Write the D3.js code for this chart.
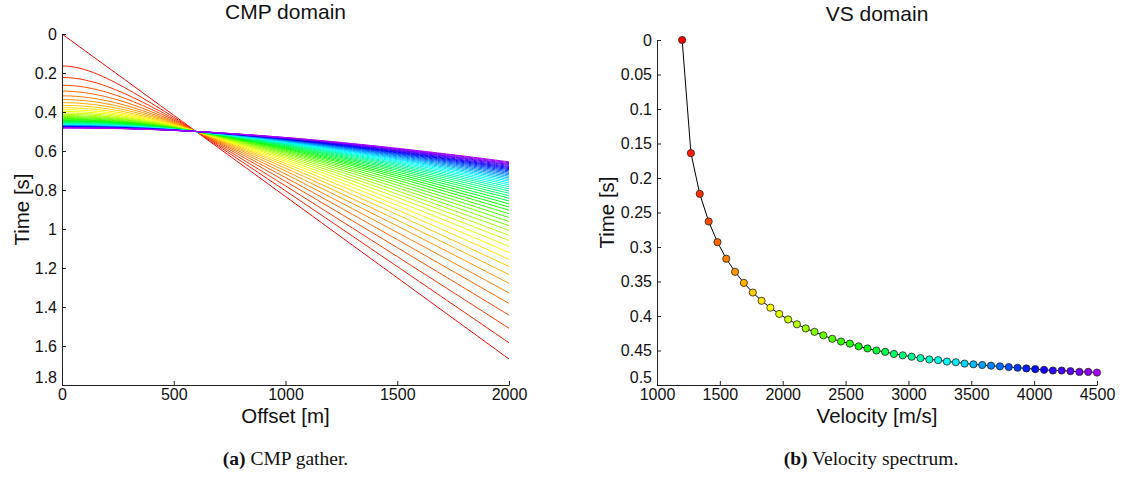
<!DOCTYPE html>
<html>
<head>
<meta charset="utf-8">
<script src="https://cdn.jsdelivr.net/npm/d3@7"></script>
<style>
  body { margin: 0; background: #fff; }
  svg text { font-family: "Liberation Sans", Arial, sans-serif; fill: #111; }
  .axis path, .axis line { stroke: #222; }
  .axis text { font-size: 16px; }
  .caption { font-family: "Liberation Serif", "Times New Roman", serif !important; font-size: 19.5px; }
</style>
</head>
<body>
<div class="chart"></div>
<script>
// stacking velocities (m/s) and zero-offset times (s)
var velocities = [1200, 1270, 1340, 1411, 1481, 1551, 1621, 1691, 1762, 1832, 1902, 1972,
    2043, 2113, 2183, 2253, 2323, 2394, 2464, 2534, 2604, 2674, 2745, 2815,
    2885, 2955, 3026, 3096, 3166, 3236, 3306, 3377, 3447, 3517, 3587, 3657,
    3728, 3798, 3868, 3938, 4009, 4079, 4149, 4219, 4289, 4360, 4430, 4500];
var zeroTimes = [0.000, 0.164, 0.223, 0.263, 0.293, 0.317, 0.336, 0.352, 0.366, 0.378, 0.388, 0.397,
    0.405, 0.412, 0.418, 0.423, 0.428, 0.433, 0.437, 0.440, 0.444, 0.447, 0.450, 0.452,
    0.455, 0.457, 0.459, 0.461, 0.463, 0.464, 0.466, 0.467, 0.469, 0.470, 0.471, 0.472,
    0.473, 0.474, 0.475, 0.476, 0.477, 0.478, 0.479, 0.479, 0.480, 0.481, 0.481, 0.482];

// offset grid for the CMP curves
var offsets = d3.range(0, 2001, 20);

// tick labels
var cmpTimeTicks = [0, 0.2, 0.4, 0.6, 0.8, 1, 1.2, 1.4, 1.6, 1.8];
var offsetTicks = [0, 500, 1000, 1500, 2000];
var vsTimeTicks = [0, 0.05, 0.1, 0.15, 0.2, 0.25, 0.3, 0.35, 0.4, 0.45, 0.5];
var velocityTicks = [1000, 1500, 2000, 2500, 3000, 3500, 4000, 4500];

var svg = d3.select(".chart").append("svg")
    .attr("width", 1121)
    .attr("height", 478);

// rainbow colour per velocity index (red -> violet)
var hue = d3.scaleLinear().domain([0, velocities.length - 1]).range([0, 280]);
function colorAt(i) { return d3.hsl(hue(i), 1, 0.5).toString(); }

var fmt = d => String(d);

// lift the bottom-most y label a little so it clears the first x label
function liftLast(g) {
    var t = g.selectAll(".tick text");
    d3.select(t.nodes()[t.size() - 1]).attr("dy", "-0.15em");
}

///////////////////////
// left panel: CMP domain
var left = { x0: 62, x1: 509, y0: 34, y1: 385 };

var xOff = d3.scaleLinear().domain([0, 2000]).range([left.x0, left.x1]);
var yT1 = d3.scaleLinear().domain([0, 1.8]).range([left.y0, left.y1]);

var lineGen = d3.line()
    .x(d => xOff(d[0]))
    .y(d => yT1(d[1]));

var cmpGroup = svg.append("g").classed("curves", true);
velocities.forEach((v, i) => {
    var t0 = zeroTimes[i];
    var pts = offsets.map(x => [x, Math.sqrt(t0 * t0 + (x / v) * (x / v))]);
    cmpGroup.append("path")
        .attr("d", lineGen(pts))
        .attr("fill", "none")
        .attr("stroke", colorAt(i))
        .attr("stroke-width", 1);
});

svg.append("g")
    .classed("axis", true)
    .attr("transform", `translate(${left.x0},0)`)
    .call(d3.axisLeft(yT1).tickValues(cmpTimeTicks).tickFormat(fmt).tickSizeInner(-4).tickSizeOuter(0).tickPadding(5))
    .call(liftLast);

svg.append("g")
    .classed("axis", true)
    .attr("transform", `translate(0,${left.y1})`)
    .call(d3.axisBottom(xOff).tickValues(offsetTicks).tickFormat(fmt).tickSizeInner(-4).tickSizeOuter(0).tickPadding(4));

svg.append("text")
    .attr("x", (left.x0 + left.x1) / 2).attr("y", 19)
    .attr("text-anchor", "middle").style("font-size", "21px")
    .text("CMP domain");

svg.append("text")
    .attr("x", (left.x0 + left.x1) / 2).attr("y", 423)
    .attr("text-anchor", "middle").style("font-size", "20.5px")
    .text("Offset [m]");

svg.append("text")
    .attr("transform", `translate(29,${(left.y0 + left.y1) / 2}) rotate(-90)`)
    .attr("text-anchor", "middle").style("font-size", "20.5px")
    .text("Time [s]");

var capA = svg.append("text")
    .classed("caption", true)
    .attr("x", (left.x0 + left.x1) / 2).attr("y", 465)
    .attr("text-anchor", "middle");
capA.append("tspan").style("font-weight", "bold").text("(a)");
capA.append("tspan").text(" CMP gather.");

///////////////////////
// right panel: VS domain
var right = { x0: 657, x1: 1097, y0: 40, y1: 385 };

var xVel = d3.scaleLinear().domain([1000, 4500]).range([right.x0, right.x1]);
var yT2 = d3.scaleLinear().domain([0, 0.5]).range([right.y0, right.y1]);

svg.append("g")
    .classed("axis", true)
    .attr("transform", `translate(${right.x0},0)`)
    .call(d3.axisLeft(yT2).tickValues(vsTimeTicks).tickFormat(fmt).tickSizeInner(-4).tickSizeOuter(0).tickPadding(5))
    .call(liftLast);

svg.append("g")
    .classed("axis", true)
    .attr("transform", `translate(0,${right.y1})`)
    .call(d3.axisBottom(xVel).tickValues(velocityTicks).tickFormat(fmt).tickSizeInner(-4).tickSizeOuter(0).tickPadding(4));

var vsLine = d3.line()
    .x((d, i) => xVel(velocities[i]))
    .y((d, i) => yT2(zeroTimes[i]));

svg.append("path")
    .attr("d", vsLine(velocities))
    .attr("fill", "none")
    .attr("stroke", "#000")
    .attr("stroke-width", 1);

svg.append("g")
    .classed("dots", true)
    .selectAll("circle")
    .data(velocities)
    .enter()
    .append("circle")
    .attr("cx", d => xVel(d))
    .attr("cy", (d, i) => yT2(zeroTimes[i]))
    .attr("r", 3.6)
    .attr("fill", (d, i) => colorAt(i))
    .attr("stroke", "#222")
    .attr("stroke-width", 0.8);

svg.append("text")
    .attr("x", (right.x0 + right.x1) / 2).attr("y", 21)
    .attr("text-anchor", "middle").style("font-size", "21px")
    .text("VS domain");

svg.append("text")
    .attr("x", (right.x0 + right.x1) / 2).attr("y", 423)
    .attr("text-anchor", "middle").style("font-size", "20.5px")
    .text("Velocity [m/s]");

svg.append("text")
    .attr("transform", `translate(614,${(right.y0 + right.y1) / 2}) rotate(-90)`)
    .attr("text-anchor", "middle").style("font-size", "20.5px")
    .text("Time [s]");

var capB = svg.append("text")
    .classed("caption", true)
    .attr("x", 871).attr("y", 465)
    .attr("text-anchor", "middle");
capB.append("tspan").style("font-weight", "bold").text("(b)");
capB.append("tspan").text(" Velocity spectrum.");
</script>
</body>
</html>
